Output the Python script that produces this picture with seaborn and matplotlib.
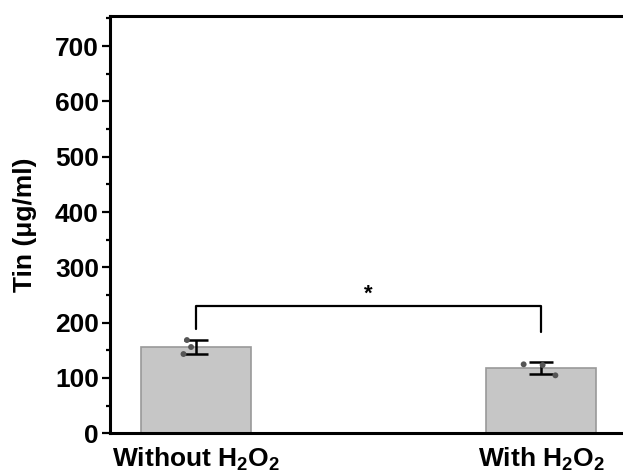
import numpy as np
import pandas as pd
import matplotlib
matplotlib.use('Agg')
import matplotlib.pyplot as plt
from matplotlib.ticker import MultipleLocator
import seaborn as sns

# groups and replicate measurements (ug/ml)
groups = ['Without H$_2$O$_2$', 'With H$_2$O$_2$']
without_h2o2 = [168.6, 156.0, 143.3]
with_h2o2 = [124.7, 123.4, 104.8]
# horizontal scatter of the replicate dots (category units)
jitter = [[-0.027, -0.015, -0.037], [-0.051, 0.004, 0.041]]

y_ticks = [0, 100, 200, 300, 400, 500, 600, 700]
bracket_y = 230.6
bracket_drop = [188.5, 183.6]

reps = [without_h2o2, with_h2o2]
df = pd.DataFrame({'group': np.repeat(groups, 3),
                   'tin': without_h2o2 + with_h2o2})
means = [np.mean(r) for r in reps]
sds = [np.std(r, ddof=1) for r in reps]

sns.set_style('ticks')
plt.rcParams['font.family'] = ['Liberation Sans', 'DejaVu Sans']
plt.rcParams['font.weight'] = 'bold'
plt.rcParams['mathtext.fontset'] = 'custom'
plt.rcParams['mathtext.rm'] = 'Liberation Sans:bold'
plt.rcParams['mathtext.default'] = 'rm'
for k in ['text.color', 'axes.labelcolor', 'xtick.color', 'ytick.color', 'axes.edgecolor']:
    plt.rcParams[k] = 'black'

fs = 19
fig = plt.figure(figsize=(6.23, 4.75), dpi=100)
ax = fig.add_axes([110 / 623, (475 - 433.3) / 475, 517.5 / 623, (433.3 - 15.7) / 475])

sns.barplot(data=df, x='group', y='tin', order=groups, errorbar=None,
            width=0.32, color='#c6c6c6', saturation=1,
            edgecolor='#999999', linewidth=1.2, ax=ax)

ax.errorbar(range(len(groups)), means, yerr=sds, fmt='none', ecolor='black',
            elinewidth=1.8, capsize=8.5, capthick=1.8, zorder=4)
for i, r in enumerate(reps):
    ax.scatter(np.array(jitter[i]) + i, r, s=18, color='#555555', zorder=5,
               edgecolors='none')

# significance bracket
ax.plot([0, 0, 1, 1], [bracket_drop[0], bracket_y, bracket_y, bracket_drop[1]],
        color='black', lw=1.6, zorder=3)
ax.text(0.5, bracket_y + 1, '*', ha='center', va='bottom', fontsize=16,
        fontweight='bold')

ax.set_xlim(-0.25, 1.25)
ax.set_ylim(0, 755)
ax.set_yticks(y_ticks)
ax.yaxis.set_minor_locator(MultipleLocator(50))
ax.set_xlabel('')
ax.set_ylabel('Tin (\u03bcg/ml)', fontsize=fs, fontweight='bold', labelpad=13)

for s in ['left', 'bottom', 'top', 'right']:
    ax.spines[s].set_linewidth(2.2)
    ax.spines[s].set_visible(True)

ax.tick_params(axis='y', which='major', direction='out', length=6, width=1.6,
               labelsize=fs, pad=2)
ax.tick_params(axis='y', which='minor', direction='out', length=3, width=1.6)
ax.tick_params(axis='x', length=0, labelsize=fs, pad=9)
for lab in ax.get_xticklabels() + ax.get_yticklabels():
    lab.set_fontweight('bold')

fig.savefig('out.png', dpi=100)
